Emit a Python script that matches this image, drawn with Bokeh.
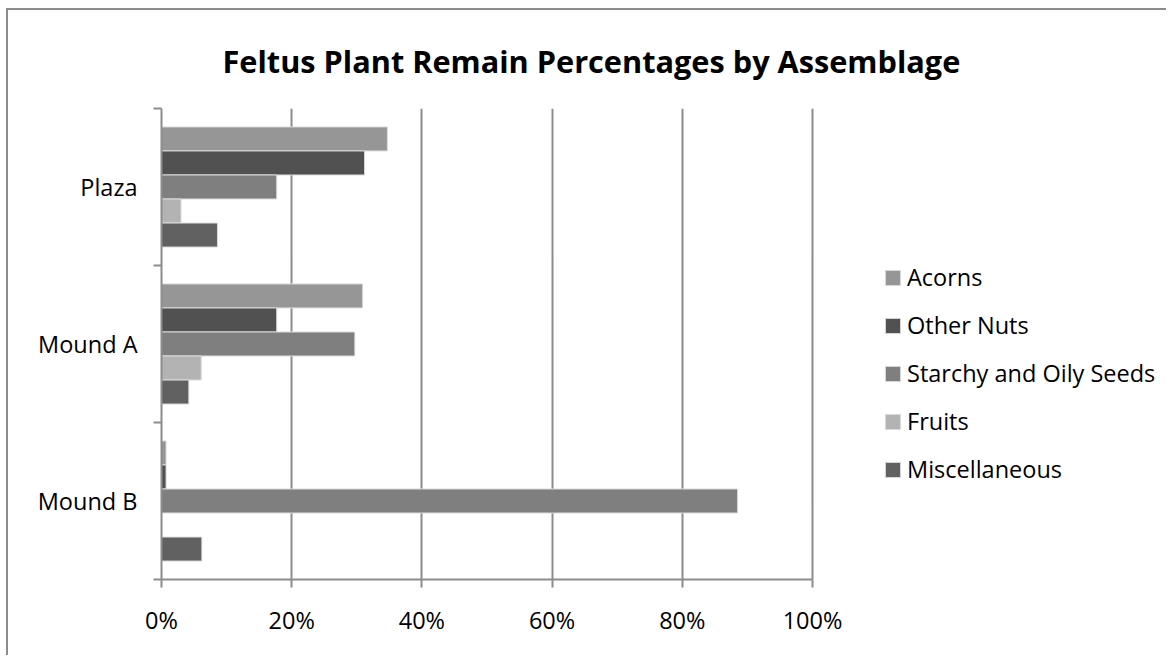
from bokeh.plotting import figure
from bokeh.models import (Range1d, FixedTicker, PrintfTickFormatter, Legend,
                          LegendItem, Title, ColumnDataSource)
from bokeh.embed import file_html
from bokeh.resources import INLINE

# ---------------- data ----------------
categories = ["Plaza", "Mound A", "Mound B"]          # top to bottom
series_names = ["Acorns", "Other Nuts", "Starchy and Oily Seeds", "Fruits", "Miscellaneous"]
acorns = [34.7, 30.9, 0.7]
other_nuts = [31.2, 17.7, 0.7]
starchy_oily_seeds = [17.7, 29.7, 88.5]
fruits = [3.0, 6.1, 0.0]
miscellaneous = [8.6, 4.2, 6.2]
x_ticks = [0, 20, 40, 60, 80, 100]

series_values = [acorns, other_nuts, starchy_oily_seeds, fruits, miscellaneous]
colors = ["#969696", "#515151", "#7f7f7f", "#b3b3b3", "#616161"]

# ---------------- figure ----------------
W, H = 1160, 647
FL, FR, FT, FB = 153, 804, 98, 569       # 0% at FL, 100% at FR
x_end = 100.0 * (W - FL) / (FR - FL)     # frame extends right to hold the legend
p = figure(width=W, height=H, output_backend="svg", toolbar_location=None,
           x_range=Range1d(0, x_end), y_range=Range1d(0, len(categories)),
           min_border_left=FL, min_border_right=0,
           min_border_top=FT, min_border_bottom=H - FB)
p.styles = {"border-left": "2px solid #8c8c8c", "border-top": "2px solid #8c8c8c",
            "margin-left": "6px", "margin-top": "8px"}
p.outline_line_color = None
p.background_fill_color = "white"
p.border_fill_color = "white"

n = len(categories)
bh = 0.153
items = []
for j, (name, vals, col) in enumerate(zip(series_names, series_values, colors)):
    ys = [(n - 1 - i) + 0.5 + (2 - j) * bh for i in range(n)]
    src = ColumnDataSource(dict(y=ys, right=vals, cat=categories))
    r = p.hbar(y="y", left=0, right="right", height=bh, source=src,
               fill_color=col, line_color="#dcdcdc", line_width=1)
    items.append(LegendItem(label=name, renderers=[r]))

grid_col = "#8c8c8c"
FONT = "Open Sans"
font_sz = "23.5px"
# x axis
p.xaxis.bounds = (0, 100)
p.xaxis.ticker = FixedTicker(ticks=x_ticks)
p.xaxis.formatter = PrintfTickFormatter(format="%d%%")
p.xaxis.axis_line_color = grid_col
p.xaxis.axis_line_width = 2
p.xaxis.major_tick_line_color = grid_col
p.xaxis.major_tick_line_width = 2
p.xaxis.major_tick_out = 8
p.xaxis.major_tick_in = 0
p.xaxis.minor_tick_line_color = None
p.xaxis.major_label_text_font = FONT
p.xaxis.major_label_text_font_size = font_sz
p.xaxis.major_label_text_color = "black"
p.xaxis.major_label_standoff = 16

# y axis
p.yaxis.ticker = FixedTicker(ticks=[k + 0.5 for k in range(n)], minor_ticks=list(range(n + 1)))
p.yaxis.major_label_overrides = {(n - 1 - i) + 0.5: c for i, c in enumerate(categories)}
p.yaxis.axis_line_color = grid_col
p.yaxis.axis_line_width = 2
p.yaxis.major_tick_line_color = None
p.yaxis.major_tick_out = 0
p.yaxis.major_tick_in = 0
p.yaxis.minor_tick_line_color = grid_col
p.yaxis.minor_tick_line_width = 2
p.yaxis.minor_tick_out = 8
p.yaxis.minor_tick_in = 0
p.yaxis.major_label_text_font = FONT
p.yaxis.major_label_text_font_size = font_sz
p.yaxis.major_label_text_color = "black"
p.yaxis.major_label_standoff = 16

# grid
p.ygrid.visible = False
p.xgrid.ticker = FixedTicker(ticks=x_ticks)
p.xgrid.grid_line_color = grid_col
p.xgrid.grid_line_width = 2

# title
title = Title(text="Feltus Plant Remain Percentages by Assemblage",
              text_font=FONT, text_font_style="bold", text_font_size="30.7px",
              text_color="black", align="left", offset=61, standoff=53)
p.add_layout(title, "above")

# legend (inside the widened frame, right of the 100% line)
legend = Legend(items=items, location=(722, 94), orientation="vertical",
                label_text_font=FONT, label_text_font_size=font_sz,
                label_text_color="black", label_standoff=5,
                glyph_width=19, glyph_height=19, label_height=24, spacing=16,
                padding=0, margin=0, border_line_color=None,
                background_fill_alpha=0)
p.add_layout(legend, "center")

open("out.html", "w").write(file_html(p, INLINE))
